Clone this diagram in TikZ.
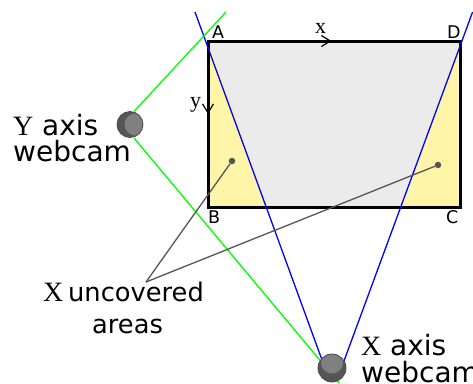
\documentclass[tikz,border=0pt]{standalone}
\usepackage{fontspec}
\setmainfont{DejaVu Sans}
\newfontfamily\serifx{Liberation Serif}
\usetikzlibrary{arrows.meta}
\definecolor{camdark}{HTML}{555555}
\definecolor{camlight}{HTML}{808080}
\definecolor{zonegrey}{HTML}{EBEBEB}
\definecolor{zoneyellow}{HTML}{FFF5A8}
\definecolor{viewblue}{HTML}{0000FF}
\definecolor{viewgreen}{HTML}{00FF00}
\tikzset{
  big/.style={inner sep=0pt,anchor=base west,font=\fontsize{28}{28}\selectfont},
  mid/.style={inner sep=0pt,anchor=base west,font=\fontsize{25.7}{26}\selectfont},
  bigserif/.style={inner sep=0pt,anchor=base west,font=\fontsize{28}{28}\selectfont\serifx},
  corner/.style={inner sep=0pt,anchor=base west,font=\fontsize{17.5}{18}\selectfont},
  axisname/.style={inner sep=0pt,anchor=base west,font=\fontsize{22}{22}\selectfont\serifx},
  blueview/.style={viewblue,line width=1.3pt},
  greenview/.style={viewgreen,line width=1.3pt},
  pointer/.style={camdark,line width=1.3pt},
  dot/.style={circle,fill=camdark,inner sep=0pt,minimum size=6.5pt},
  axisarrow/.style={black,line width=1.2pt,-{Straight Barb[length=9pt,width=11pt,line width=1.2pt]}},
}
\begin{document}
\begin{tikzpicture}[x=1pt,y=-1pt]
\useasboundingbox (0,0) rectangle (473,383);
\coordinate (A) at (208,41);
\coordinate (B) at (208,207);
\coordinate (C) at (460,207);
\coordinate (D) at (460,41);
\coordinate (blueLtop) at (195,12);
\coordinate (blueRtop) at (472.6,12);
\coordinate (blueLbot) at (266.3,207);
\coordinate (blueRbot) at (400.7,207);
\coordinate (blueLend) at (322.75,362);
\coordinate (blueRend) at (343.6,362);
\coordinate (greenUtop) at (226,12);
\coordinate (greenUend) at (134,111.5);
\coordinate (greenLstart) at (134,138);
\coordinate (greenLend) at (339,383);
\coordinate (fork) at (146,282);
\coordinate (xa) at (316,41);
\coordinate (xb) at (331.5,41);
\coordinate (ya) at (208,98);
\coordinate (yb) at (208,114);
% areas
\fill[zoneyellow] (A) -- (D) -- (C) -- (B) -- cycle;
\fill[zonegrey] (A) -- (D) -- (blueRbot) -- (blueLbot) -- cycle;
\draw[line width=3pt,line join=miter] (A) -- (D) -- (C) -- (B) -- cycle;
% fields of view
\draw[blueview] (blueLtop) -- (blueLend);
\draw[blueview] (blueRtop) -- (blueRend);
\draw[greenview] (greenUtop) -- (greenUend);
\draw[greenview] (greenLstart) -- (greenLend);
% pointers
\node[dot] (dotL) at (232,161) {};
\node[dot] (dotR) at (438,165) {};
\draw[pointer] (fork) -- (dotL);
\draw[pointer] (fork) -- (dotR);
% axis arrows
\draw[axisarrow] (xa) -- (xb);
\draw[axisarrow] (ya) -- (yb);
% camera bodies
\begin{scope}
\clip (130,124.5) circle (13);
\fill[camdark] (130,124.5) circle (13);
\fill[camlight] (135.5,124.5) circle (11);
\end{scope}
\draw[black!70,line width=.8pt] (130,124.5) circle (13);
\begin{scope}
\clip (332,368) circle (14);
\fill[camdark] (332,368) circle (14);
\fill[camlight] (332,362.5) circle (11);
\end{scope}
\draw[black!70,line width=.8pt] (332,368) circle (14);
% texts
\node[corner] (la) at (212,38.5) {A};
\node[corner] (ld) at (447,38.5) {D};
\node[corner] (lb) at (208,223.5) {B};
\node[corner] (lc) at (446,223.5) {C};
\node[axisname] (lx) at (315,33.7) {x};
\node[axisname] (ly) at (190,107.5) {y};
\node[bigserif] (yY) at (13,135) {Y};
\node[big] (yaxis) at (42,135) {axis};
\node[big] (ywc) at (13,161) {webcam};
\node[bigserif] (xX) at (43,301) {X};
\node[mid] (unc) at (68,301) {uncovered};
\node[mid] (are) at (92,333) {areas};
\node[bigserif] (cX) at (361,355) {X};
\node[big] (caxis) at (390,355) {axis};
\node[big] (cwc) at (361,382) {webcam};
\end{tikzpicture}
\end{document}
